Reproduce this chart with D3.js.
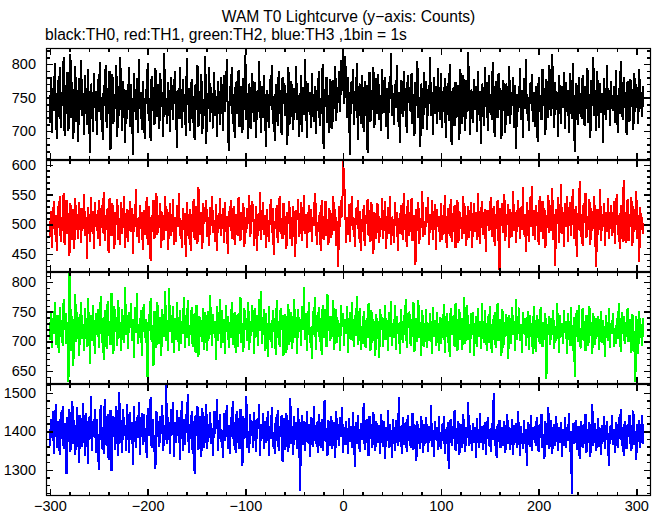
<!DOCTYPE html>
<html><head><meta charset="utf-8">
<script src="https://cdn.jsdelivr.net/npm/d3@7"></script>
<style>
html,body{margin:0;padding:0;background:#fff;}
svg{display:block;}
text{font-family:"Liberation Sans",Arial,Helvetica,sans-serif;fill:#000;}
</style>
</head><body>
<svg id="c" width="661" height="515"></svg>
<script>
const titleText = "WAM T0 Lightcurve (y\u2212axis: Counts)";
const subtitleText = "black:TH0, red:TH1, green:TH2, blue:TH3 ,1bin = 1s";
const binStart = -300;          // time of first 1 s bin
const xDomain = [-304, 315];
const xMajorTicks = [-300, -200, -100, 0, 100, 200, 300];
const seriesNames = ["TH0", "TH1", "TH2", "TH3"];
const seriesColors = ["#000000", "#ff0000", "#00ff00", "#0000ff"];
const yDomains = [[657, 824], [420, 608], [628, 817], [1232, 1523]];
const yTickLabels = [[700, 750, 800], [450, 500, 550, 600], [650, 700, 750, 800], [1300, 1400, 1500]];
const yMinorSteps = [10, 10, 10, 20];

const th0 = [
712,781,698,765,730,802,741,689,776,721,795,704,758,737,810,693,
769,726,788,701,752,815,719,774,688,746,797,713,762,684,779,731,
806,722,757,695,783,740,709,792,727,668,771,748,699,786,735,760,
694,777,729,803,716,751,687,769,738,798,705,764,725,790,672,747,
785,710,756,733,799,691,768,722,811,743,700,774,739,683,761,718,
752,796,706,770,728,664,787,745,716,779,697,808,733,758,702,775,
727,689,763,740,801,715,750,685,782,730,766,709,794,744,721,771,
703,786,736,758,692,817,724,749,710,773,738,699,780,754,716,767,
790,731,675,762,718,796,742,705,777,728,755,693,809,739,764,701,
744,778,712,753,687,770,731,799,706,760,726,785,696,748,722,812,
681,757,733,795,714,766,740,704,788,723,752,692,775,745,709,780,
763,700,784,729,751,807,718,671,768,737,796,711,755,690,774,735,
725,791,706,767,743,697,779,732,814,716,757,688,771,746,703,786,
747,714,773,690,760,728,804,741,698,768,720,783,735,677,762,730,
705,777,738,799,711,752,686,770,745,708,789,726,761,694,780,740,
771,722,757,680,795,733,710,775,749,702,764,727,797,716,754,691,
738,784,699,766,724,808,744,690,772,729,759,705,786,741,713,768,
696,761,730,789,707,750,726,800,674,763,736,781,712,754,698,777,
748,703,776,733,797,715,766,742,790,728,806,760,826,741,812,778,
719,780,736,665,773,745,793,709,760,730,801,687,756,771,711,784,
737,699,775,722,769,668,751,788,714,762,731,796,704,746,779,726,
785,716,754,700,792,739,727,781,706,765,688,774,748,817,723,757,
709,770,735,799,713,758,682,776,743,721,790,730,764,697,783,742,
766,728,786,710,755,693,773,737,805,719,751,677,771,739,703,788,
734,775,702,763,741,811,722,758,695,780,726,767,710,794,748,717,
786,705,760,728,779,690,749,771,715,800,733,679,765,744,707,774,
720,769,741,687,793,737,711,784,752,701,776,729,818,746,694,762,
754,712,778,732,767,699,789,724,760,681,771,743,708,795,736,773,
701,783,727,756,716,803,740,692,775,747,719,786,731,764,689,752,
776,734,698,771,745,722,797,711,758,738,780,704,769,673,755,729,
743,794,717,761,690,779,733,807,726,750,700,772,741,785,713,759,
706,768,739,684,781,729,754,716,792,737,765,695,777,748,720,799,
760,722,815,742,705,773,731,758,691,784,745,711,767,734,788,703,
774,729,762,697,786,743,718,801,736,669,771,752,709,780,726,757,
718,783,744,708,767,733,794,712,755,690,776,738,810,722,761,700,
789,741,705,772,728,757,683,779,746,716,798,731,762,707,774,737,
730,768,712,791,740,698,764,725,805,744,717,780,735,759,694,775,
752,714,778,736,763,702,786,729,770,745,710,793,733,758,721,767
];

const th1 = [
478,523,461,507,539,482,515,456,531,494,548,470,512,489,553,465,
506,541,484,519,447,535,498,473,526,459,544,491,517,476,538,502,
468,527,493,551,480,513,442,529,505,471,546,487,522,459,537,496,
518,476,540,463,509,532,485,555,472,516,490,528,452,544,501,480,
535,492,458,521,499,543,474,510,466,537,484,519,548,461,505,526,
471,512,539,487,527,451,518,496,560,479,508,469,533,492,521,457,
524,483,506,545,465,530,497,438,515,488,541,476,509,553,482,516,
494,536,461,520,502,473,547,489,525,457,512,535,480,498,542,466,
513,470,532,495,553,481,507,460,528,491,519,446,538,504,475,526,
456,517,488,543,474,509,531,467,562,495,483,520,458,536,500,522,
540,479,512,463,529,497,548,485,507,471,534,455,516,492,545,481,
502,528,469,538,487,514,450,523,496,541,476,509,530,466,518,494,
481,546,508,472,520,491,536,462,513,485,527,500,549,478,504,539,
523,463,497,531,455,517,489,554,474,508,538,482,515,460,526,497,
470,511,543,486,527,448,505,492,533,469,521,547,484,510,475,536,
515,484,458,520,500,539,476,513,464,530,495,445,524,507,542,479,
491,537,472,511,549,483,518,461,504,533,488,526,470,512,497,552,
530,466,503,487,521,456,541,499,474,515,539,480,509,465,527,493,
477,514,548,489,525,463,506,428,531,496,540,512,608,576,537,468,
513,482,534,471,519,547,490,510,462,528,499,541,476,522,455,509,
488,532,464,516,500,543,481,524,470,537,494,451,520,505,475,535,
527,468,510,490,545,476,517,539,459,502,529,483,548,466,513,496,
469,538,498,521,455,511,484,533,507,474,552,491,518,462,540,480,
521,487,544,472,515,498,431,526,489,537,467,511,494,556,478,505,
482,529,503,545,466,518,490,540,473,509,534,457,525,496,514,471,
535,474,516,483,550,499,461,527,505,481,542,470,519,488,533,460,
498,541,469,523,492,512,476,547,484,531,463,507,530,477,516,538,
460,508,535,487,521,474,553,495,467,514,539,482,511,526,453,520,
524,489,513,546,479,505,530,463,518,493,541,472,424,527,498,536,
486,551,472,518,499,534,461,525,507,478,556,489,520,468,513,540,
511,476,529,491,563,482,517,454,538,502,471,545,495,565,480,524,
473,533,498,520,466,547,487,512,539,475,528,460,516,494,550,485,
532,489,561,474,517,430,526,500,545,468,510,568,483,521,462,536,
495,548,470,513,537,481,522,559,476,508,531,446,519,490,573,478,
517,464,536,502,553,477,514,491,543,466,527,489,511,548,472,429,
526,483,509,560,472,518,496,535,463,521,487,544,475,506,532,480,
490,539,467,527,551,482,516,458,533,498,471,574,503,469,524,542,
472,518,495,545,463,530,487,509,556,476,515,436,529,491,512,484
];

const th2 = [
702,751,688,739,713,767,694,745,722,680,758,707,736,692,771,719,
748,695,733,631,815,760,684,742,659,728,779,699,750,713,676,738,
766,704,729,683,757,715,690,773,725,661,744,700,762,719,678,747,
710,755,689,731,776,697,740,669,752,723,687,768,709,735,694,782,
726,678,759,715,741,692,770,706,733,684,755,720,698,792,711,744,
687,749,723,764,700,737,672,758,714,781,695,729,706,753,676,741,
763,705,738,690,632,746,718,773,699,727,659,751,712,688,766,724,
695,741,676,754,719,708,785,701,736,683,790,716,745,697,760,681,
739,703,767,721,684,753,696,735,712,774,689,744,706,770,693,728,
711,758,690,729,748,681,762,715,674,743,707,736,699,757,685,750,
726,684,751,704,778,719,693,746,712,735,668,760,700,724,771,689,
753,697,737,679,761,716,742,688,732,705,766,694,729,750,681,744,
690,748,713,775,698,731,682,757,720,739,701,767,686,735,709,761,
733,679,756,707,744,692,772,718,785,696,725,754,683,747,712,673,
759,703,731,688,752,715,740,677,769,706,734,691,757,720,744,676,
701,746,680,738,763,694,726,750,687,733,772,705,741,678,755,716,
737,692,760,720,792,703,748,684,731,766,697,723,670,751,710,774,
685,744,715,758,699,739,677,761,706,728,755,690,779,717,743,700,
742,708,769,686,731,754,697,736,719,683,761,725,748,693,738,712,
760,680,728,749,703,766,721,690,745,709,777,694,733,756,686,725,
695,751,714,689,740,705,764,726,683,752,698,737,717,675,746,704,
734,672,755,719,741,690,727,761,702,736,684,749,708,768,693,730,
706,762,685,743,713,731,678,754,720,697,744,711,771,689,727,750,
745,693,737,708,766,682,724,740,699,770,705,733,676,752,715,691,
721,754,688,731,700,747,714,679,758,707,736,692,750,718,684,741,
696,739,705,763,681,725,748,697,735,673,757,710,726,744,690,764,
738,683,727,754,703,740,686,732,775,695,719,761,702,729,681,747,
711,750,675,723,742,691,757,708,734,687,765,714,698,752,720,683,
742,697,760,715,681,737,703,749,689,726,764,700,738,712,676,755,
689,733,708,746,719,670,744,722,696,758,711,735,684,771,702,728,
757,700,729,681,750,713,739,692,723,751,685,744,707,731,678,760,
716,682,745,705,737,695,758,717,690,733,702,748,636,729,710,742,
694,740,711,753,687,726,701,764,719,680,745,708,731,695,752,714,
735,679,748,720,693,758,712,683,741,639,727,753,699,762,706,688,
725,757,701,734,683,745,716,692,760,709,733,678,748,718,694,739,
707,742,685,729,751,698,736,711,673,744,720,700,757,688,730,715,
748,691,723,696,739,704,765,727,682,750,712,742,695,733,708,756,
699,737,718,680,746,721,689,632,743,715,678,751,706,729,693,740
];

const th3 = [
1362,1431,1384,1452,1340,1415,1470,1357,1426,1398,1338,1449,1380,1465,1353,1421,
1396,1288,1437,1372,1458,1347,1412,1480,1366,1430,1339,1405,1462,1375,1318,1443,
1415,1360,1473,1392,1335,1448,1401,1315,1438,1379,1492,1350,1427,1386,1457,1344,
1433,1378,1299,1420,1469,1354,1411,1341,1484,1396,1363,1446,1325,1419,1455,1296,
1381,1440,1407,1352,1465,1393,1336,1503,1369,1429,1345,1458,1388,1417,1349,1472,
1404,1343,1451,1378,1424,1312,1466,1397,1358,1437,1382,1476,1339,1410,1448,1365,
1445,1372,1409,1331,1460,1387,1422,1489,1356,1433,1391,1346,1302,1454,1385,1427,
1359,1441,1394,1468,1348,1412,1377,1520,1366,1436,1399,1342,1458,1391,1475,1334,
1423,1370,1456,1389,1437,1326,1412,1479,1350,1431,1364,1444,1397,1497,1345,1418,
1380,1452,1341,1426,1290,1443,1387,1466,1351,1414,1439,1333,1460,1392,1357,1430,
1471,1355,1419,1384,1450,1366,1408,1337,1454,1392,1423,1485,1348,1411,1446,1373,
1398,1330,1447,1376,1429,1468,1354,1416,1340,1438,1385,1478,1361,1425,1344,1452,
1370,1435,1353,1459,1396,1310,1441,1379,1421,1491,1358,1402,1343,1444,1388,1427,
1357,1449,1392,1347,1431,1405,1472,1336,1418,1381,1447,1353,1428,1369,1409,1454,
1336,1415,1381,1464,1360,1399,1342,1437,1374,1455,1349,1413,1385,1442,1321,1406,
1434,1352,1448,1389,1346,1421,1486,1366,1413,1339,1440,1378,1424,1355,1461,1382,
1245,1409,1442,1364,1427,1350,1390,1452,1371,1418,1333,1437,1380,1359,1467,1396,
1368,1423,1344,1445,1388,1357,1433,1349,1411,1482,1372,1409,1337,1429,1384,1361,
1440,1355,1396,1425,1330,1452,1377,1418,1361,1436,1386,1463,1345,1410,1365,1427,
1388,1341,1434,1373,1414,1356,1449,1392,1308,1425,1367,1443,1383,1346,1421,1378,
1405,1473,1352,1397,1431,1366,1335,1440,1379,1419,1358,1451,1387,1348,1426,1391,
1370,1416,1342,1446,1384,1359,1428,1328,1411,1376,1455,1356,1420,1389,1331,1433,
1392,1350,1429,1386,1362,1489,1373,1414,1340,1438,1365,1402,1424,1347,1443,1374,
1415,1358,1386,1448,1352,1418,1377,1323,1426,1368,1408,1354,1441,1382,1343,1420,
1366,1436,1381,1346,1413,1374,1469,1360,1404,1333,1428,1378,1411,1351,1439,1371,
1355,1419,1375,1441,1342,1405,1367,1423,1301,1398,1433,1362,1414,1379,1456,1350,
1408,1366,1427,1338,1401,1420,1357,1445,1374,1346,1412,1383,1477,1361,1417,1376,
1348,1421,1371,1410,1330,1434,1381,1358,1447,1369,1413,1352,1403,1425,1339,1396,
1437,1362,1405,1347,1422,1377,1500,1363,1407,1332,1418,1372,1430,1356,1400,1411,
1361,1426,1343,1402,1445,1366,1410,1351,1397,1433,1338,1416,1371,1421,1357,1453,
1392,1335,1413,1380,1355,1429,1367,1406,1311,1423,1374,1359,1442,1348,1411,1377,
1415,1361,1436,1370,1346,1420,1382,1446,1357,1393,1328,1426,1379,1365,1462,1354,
1387,1429,1341,1396,1418,1361,1440,1384,1350,1412,1370,1424,1334,1406,1363,1436,
1358,1411,1375,1448,1347,1400,1236,1421,1366,1405,1430,1352,1414,1373,1329,1427,
1402,1356,1419,1368,1444,1345,1407,1371,1425,1334,1411,1470,1362,1399,1422,1349,
1376,1434,1360,1408,1339,1417,1372,1441,1353,1404,1427,1365,1310,1414,1378,1442,
1365,1407,1345,1423,1374,1358,1436,1381,1458,1362,1410,1336,1428,1377,1354,1418,
1385,1443,1369,1350,1412,1454,1364,1401,1326,1420,1372,1429,1357,1408,1442,1367
];

const seriesValues = [th0, th1, th2, th3];

// ---------- drawing ----------
const svg = d3.select("#c");
const plotLeft = 46, plotRight = 651, plotTop = 48, panelH = 112;
const nPanels = seriesValues.length;
const fontFam = '"Liberation Sans",Arial,Helvetica,sans-serif';

const x = d3.scaleLinear().domain(xDomain).range([plotLeft, plotRight]);
const xMinorTicks = d3.range(-300, 301, 20).filter(v => !xMajorTicks.includes(v));

svg.append("text").attr("x", (plotLeft + plotRight) / 2).attr("y", 22)
  .attr("text-anchor", "middle").style("font-size", "15.6px").text(titleText);
svg.append("text").attr("x", 45).attr("y", 40)
  .style("font-size", "15.6px").text(subtitleText);

function styleAxis(g, withLabels) {
  g.select(".domain").remove();
  g.selectAll(".tick line").attr("stroke", "#000").attr("stroke-width", 1.5).attr("shape-rendering", "crispEdges");
  g.selectAll(".tick text").attr("font-family", fontFam).attr("font-size", 14.5).attr("fill", "#000");
  if (!withLabels) g.selectAll(".tick text").remove();
}

seriesValues.forEach((vals, i) => {
  const y0 = plotTop + i * panelH, y1 = y0 + panelH;
  const y = d3.scaleLinear().domain(yDomains[i]).range([y1, y0]);
  const g = svg.append("g");

  const clipId = "clip" + i;
  svg.append("defs").append("clipPath").attr("id", clipId)
    .append("rect").attr("x", plotLeft).attr("y", y0).attr("width", plotRight - plotLeft).attr("height", panelH);

  const line = d3.line().x((d, j) => x(binStart + j)).y(d => y(d));
  g.append("path").datum(vals)
    .attr("d", line).attr("fill", "none")
    .attr("stroke", seriesColors[i]).attr("stroke-width", 2)
    .attr("shape-rendering", "crispEdges")
    .attr("clip-path", `url(#${clipId})`);

  const dom = yDomains[i];
  const yMinor = d3.range(Math.ceil(dom[0] / yMinorSteps[i]) * yMinorSteps[i], dom[1], yMinorSteps[i])
    .filter(v => !yTickLabels[i].includes(v));

  // y axes: left (labels) and right, ticks pointing inward
  g.append("g").attr("transform", `translate(${plotLeft},0)`)
    .call(d3.axisLeft(y).tickValues(yTickLabels[i]).tickSize(-7).tickPadding(10).tickFormat(d3.format("d")))
    .call(a => styleAxis(a, true));
  g.append("g").attr("transform", `translate(${plotLeft},0)`)
    .call(d3.axisLeft(y).tickValues(yMinor).tickSize(-4).tickFormat(""))
    .call(a => styleAxis(a, false));
  g.append("g").attr("transform", `translate(${plotRight},0)`)
    .call(d3.axisRight(y).tickValues(yTickLabels[i]).tickSize(-7).tickFormat(""))
    .call(a => styleAxis(a, false));
  g.append("g").attr("transform", `translate(${plotRight},0)`)
    .call(d3.axisRight(y).tickValues(yMinor).tickSize(-4).tickFormat(""))
    .call(a => styleAxis(a, false));

  // x axes: top and bottom of each panel, ticks inward
  const last = i === nPanels - 1;
  g.append("g").attr("transform", `translate(0,${y1})`)
    .call(d3.axisBottom(x).tickValues(xMajorTicks).tickSize(-7).tickPadding(5))
    .call(a => styleAxis(a, last));
  g.append("g").attr("transform", `translate(0,${y1})`)
    .call(d3.axisBottom(x).tickValues(xMinorTicks).tickSize(-4).tickFormat(""))
    .call(a => styleAxis(a, false));
  g.append("g").attr("transform", `translate(0,${y0})`)
    .call(d3.axisTop(x).tickValues(xMajorTicks).tickSize(-7).tickFormat(""))
    .call(a => styleAxis(a, false));
  g.append("g").attr("transform", `translate(0,${y0})`)
    .call(d3.axisTop(x).tickValues(xMinorTicks).tickSize(-4).tickFormat(""))
    .call(a => styleAxis(a, false));

  // frame
  g.append("rect").attr("x", plotLeft + 0.5).attr("y", y0 + 0.5)
    .attr("width", plotRight - plotLeft - 1).attr("height", panelH - 1)
    .attr("fill", "none").attr("stroke", "#000").attr("stroke-width", 1.2);
  if (i > 0) {
    g.append("line").attr("x1", plotLeft).attr("x2", plotRight).attr("y1", y0).attr("y2", y0)
      .attr("stroke", "#000").attr("stroke-width", 2);
  }
});
</script>
</body></html>
